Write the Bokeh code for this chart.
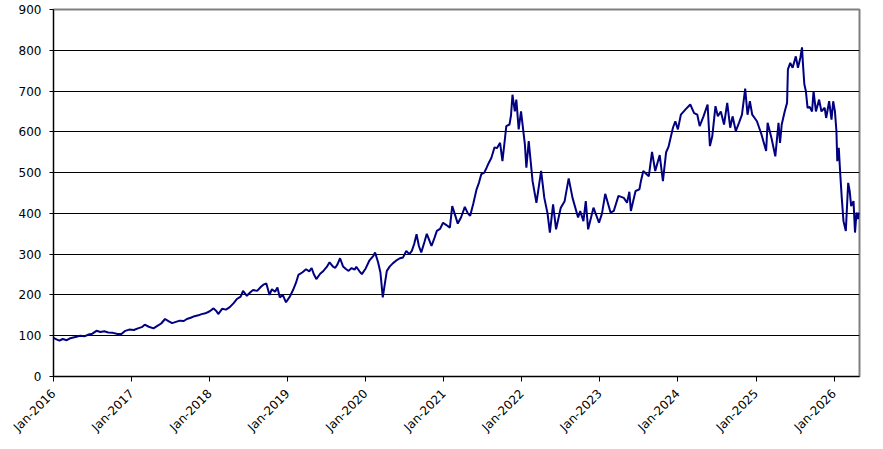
import pandas as pd
from bokeh.plotting import figure
from bokeh.models import ColumnDataSource, Range1d, FixedTicker, DatetimeTickFormatter
from bokeh.embed import file_html
from bokeh.resources import INLINE

# values
dates = [
    "2016-01-01", "2016-01-15", "2016-01-29", "2016-02-13", "2016-03-03", "2016-03-20",
    "2016-04-12", "2016-05-05", "2016-05-27", "2016-06-14", "2016-07-01", "2016-07-20",
    "2016-08-08", "2016-08-26", "2016-09-13", "2016-10-05", "2016-10-27", "2016-11-14",
    "2016-12-02", "2016-12-20",
    "2017-01-11", "2017-01-30", "2017-02-17", "2017-03-03", "2017-03-22", "2017-04-13",
    "2017-05-01", "2017-05-19", "2017-06-06", "2017-06-24", "2017-07-09", "2017-07-27",
    "2017-08-14", "2017-09-02", "2017-09-16", "2017-10-04", "2017-10-22", "2017-11-09",
    "2017-11-24", "2017-12-12",
    "2018-01-01", "2018-01-19", "2018-02-02", "2018-02-10", "2018-02-28", "2018-03-18",
    "2018-04-05", "2018-04-23", "2018-05-08", "2018-05-26", "2018-06-06", "2018-06-24",
    "2018-07-09", "2018-07-23", "2018-08-11", "2018-08-29", "2018-09-12", "2018-09-23",
    "2018-10-08", "2018-10-19", "2018-11-03", "2018-11-14", "2018-11-25", "2018-12-09",
    "2018-12-24",
    "2019-01-11", "2019-01-26", "2019-02-09", "2019-02-20", "2019-03-10", "2019-03-28",
    "2019-04-12", "2019-04-23", "2019-05-04", "2019-05-15", "2019-06-02", "2019-06-17",
    "2019-07-02", "2019-07-16", "2019-07-31", "2019-08-11", "2019-08-22", "2019-09-03",
    "2019-09-17", "2019-10-02", "2019-10-13", "2019-10-27", "2019-11-10", "2019-11-18",
    "2019-12-03", "2019-12-14",
    "2020-01-01", "2020-01-19", "2020-02-06", "2020-02-14", "2020-02-28", "2020-03-10",
    "2020-03-21", "2020-04-01", "2020-04-09", "2020-04-23", "2020-05-08", "2020-05-22",
    "2020-06-09", "2020-06-24", "2020-07-09", "2020-07-23", "2020-08-04", "2020-08-15",
    "2020-08-26", "2020-09-06", "2020-09-17", "2020-10-02", "2020-10-13", "2020-10-24",
    "2020-11-04", "2020-11-18", "2020-11-29", "2020-12-14", "2020-12-28",
    "2021-01-11", "2021-01-29", "2021-02-09", "2021-02-20", "2021-03-07", "2021-03-22",
    "2021-04-09", "2021-04-23", "2021-05-04", "2021-05-19", "2021-06-03", "2021-06-14",
    "2021-06-25", "2021-07-09", "2021-07-20", "2021-07-31", "2021-08-11", "2021-08-26",
    "2021-09-06", "2021-09-21", "2021-10-02", "2021-10-13", "2021-10-20", "2021-11-04",
    "2021-11-11", "2021-11-18", "2021-11-29", "2021-12-06", "2021-12-17", "2021-12-28",
    "2022-01-15", "2022-01-22", "2022-02-02", "2022-02-20", "2022-03-10", "2022-04-01",
    "2022-04-16", "2022-05-01", "2022-05-12", "2022-05-27", "2022-06-10", "2022-07-02",
    "2022-07-20", "2022-08-08", "2022-08-26", "2022-09-21", "2022-10-01", "2022-10-16",
    "2022-10-27", "2022-11-07", "2022-12-02", "2022-12-28",
    "2023-01-11", "2023-01-26", "2023-02-20", "2023-03-07", "2023-03-29", "2023-04-23",
    "2023-05-08", "2023-05-19", "2023-05-26", "2023-06-17", "2023-07-05", "2023-07-12",
    "2023-07-23", "2023-08-18", "2023-09-02", "2023-09-17", "2023-10-08", "2023-10-23",
    "2023-11-07", "2023-11-18", "2023-12-09", "2023-12-20",
    "2024-01-01", "2024-01-15", "2024-02-06", "2024-02-28", "2024-03-17", "2024-04-01",
    "2024-04-12", "2024-04-30", "2024-05-19", "2024-05-30", "2024-06-10", "2024-06-25",
    "2024-07-06", "2024-07-20", "2024-08-04", "2024-08-19", "2024-09-02", "2024-09-13",
    "2024-09-28", "2024-10-13", "2024-10-27", "2024-11-11", "2024-11-22", "2024-12-03",
    "2024-12-14",
    "2025-01-05", "2025-01-26", "2025-02-17", "2025-02-24", "2025-03-14", "2025-04-01",
    "2025-04-16", "2025-04-23", "2025-05-01", "2025-05-15", "2025-05-26", "2025-05-30",
    "2025-06-10", "2025-06-21", "2025-07-06", "2025-07-16", "2025-07-27", "2025-08-04",
    "2025-08-08", "2025-08-15", "2025-08-22", "2025-08-30", "2025-09-09", "2025-09-20",
    "2025-09-27", "2025-10-08", "2025-10-23", "2025-11-03", "2025-11-18", "2025-11-25",
    "2025-12-09", "2025-12-20", "2025-12-28",
    "2026-01-05", "2026-01-12", "2026-01-16", "2026-01-23", "2026-01-30", "2026-02-06",
    "2026-02-14", "2026-02-25", "2026-03-08", "2026-03-15", "2026-03-22", "2026-04-02",
    "2026-04-09", "2026-04-16", "2026-04-23", "2026-04-27",
]
values = [
    95, 91, 88, 92, 89, 94, 97, 100, 99, 103, 105, 112, 109, 111, 108, 107, 104, 104, 112, 115,
    114, 118, 121, 127, 122, 118, 124, 130, 141, 135, 131, 134, 137, 136, 141, 144, 148, 150,
    153, 155,
    160, 167, 160, 153, 166, 164, 170, 180, 190, 196, 210, 198, 206, 212, 210, 220, 226, 228,
    200, 214, 208, 218, 194, 200, 182,
    196, 212, 230, 249, 255, 263, 258, 266, 250, 239, 252, 259, 268, 280, 270, 266, 275, 290,
    270, 263, 259, 266, 262, 269, 258, 251,
    265, 285, 296, 304, 280, 255, 194, 232, 259, 270, 278, 284, 290, 292, 308, 300, 308, 325,
    349, 320, 304, 330, 350, 335, 320, 340, 357, 362, 377,
    372, 365, 418, 400, 375, 390, 416, 400, 394, 425, 459, 475, 496, 500, 512, 525, 536, 562,
    560, 573, 528, 580, 614, 618, 640, 691, 650, 679, 606, 650,
    569, 512, 577, 479, 426, 504, 438, 400, 353, 422, 361, 414, 430, 486, 438, 390, 406, 381,
    430, 361, 414, 377,
    400, 448, 402, 406, 443, 438, 426, 453, 406, 455, 459, 479, 504, 491, 551, 504, 543, 479,
    550, 563, 610, 626,
    606, 642, 655, 667, 646, 642, 614, 638, 667, 565, 589, 663, 638, 650, 618, 671, 610, 638,
    602, 622, 642, 706, 642, 675, 642,
    626, 594, 553, 622, 585, 540, 622, 573, 618, 650, 671, 753, 769, 757, 785, 757, 781, 807,
    769, 716, 700, 659, 661, 650, 700, 650, 679, 650, 659, 634, 675, 630, 675,
    650, 602, 528, 561, 496, 438, 381, 357, 475, 455, 418, 430, 353, 402, 386, 402,
]

tick_dates = ["2016-01-01", "2017-01-01", "2018-01-01", "2019-01-01", "2020-01-01",
              "2021-01-01", "2022-01-01", "2023-01-01", "2024-01-01", "2025-01-01",
              "2026-01-01"]
y_ticks = [0, 100, 200, 300, 400, 500, 600, 700, 800, 900]

df = pd.DataFrame({"date": pd.to_datetime(dates), "value": values})
source = ColumnDataSource(df)

p = figure(width=883, height=449, frame_width=806, frame_height=367,
           x_axis_type="datetime", output_backend="svg", toolbar_location=None,
           x_range=Range1d(pd.Timestamp("2016-01-01"), pd.Timestamp("2026-04-30")),
           y_range=Range1d(0, 900),
           min_border_left=53, min_border_right=24, min_border_top=9, min_border_bottom=73)

p.line("date", "value", source=source, line_color="#000080", line_width=2)

p.background_fill_color = "white"
p.border_fill_color = "white"
p.outline_line_color = "#808080"
p.outline_line_width = 2

tick_ms = [pd.Timestamp(d).value // 10**6 for d in tick_dates]
p.xaxis.ticker = FixedTicker(ticks=tick_ms)
fmt = "%b-%Y"
p.xaxis.formatter = DatetimeTickFormatter(years=fmt, months=fmt, days=fmt, hours=fmt,
                                          minutes=fmt, seconds=fmt, milliseconds=fmt)
p.xaxis.major_label_orientation = 0.785398
p.yaxis.ticker = FixedTicker(ticks=y_ticks)

for ax in (p.xaxis, p.yaxis):
    ax.axis_line_color = "black"
    ax.axis_line_width = 1
    ax.major_tick_line_color = "black"
    ax.major_tick_in = 0
    ax.minor_tick_line_color = None
    ax.major_label_text_font = "DejaVu Sans"
    ax.major_label_text_font_size = "12px"
    ax.major_label_text_color = "black"
p.xaxis.major_tick_out = 5
p.yaxis.major_tick_out = 4
p.yaxis.major_label_standoff = 8
p.xaxis.major_label_standoff = 10

p.xgrid.grid_line_color = None
p.ygrid.ticker = FixedTicker(ticks=y_ticks[1:-1])
p.ygrid.grid_line_color = "black"
p.ygrid.grid_line_width = 1

open("out.html", "w").write(file_html(p, INLINE))
